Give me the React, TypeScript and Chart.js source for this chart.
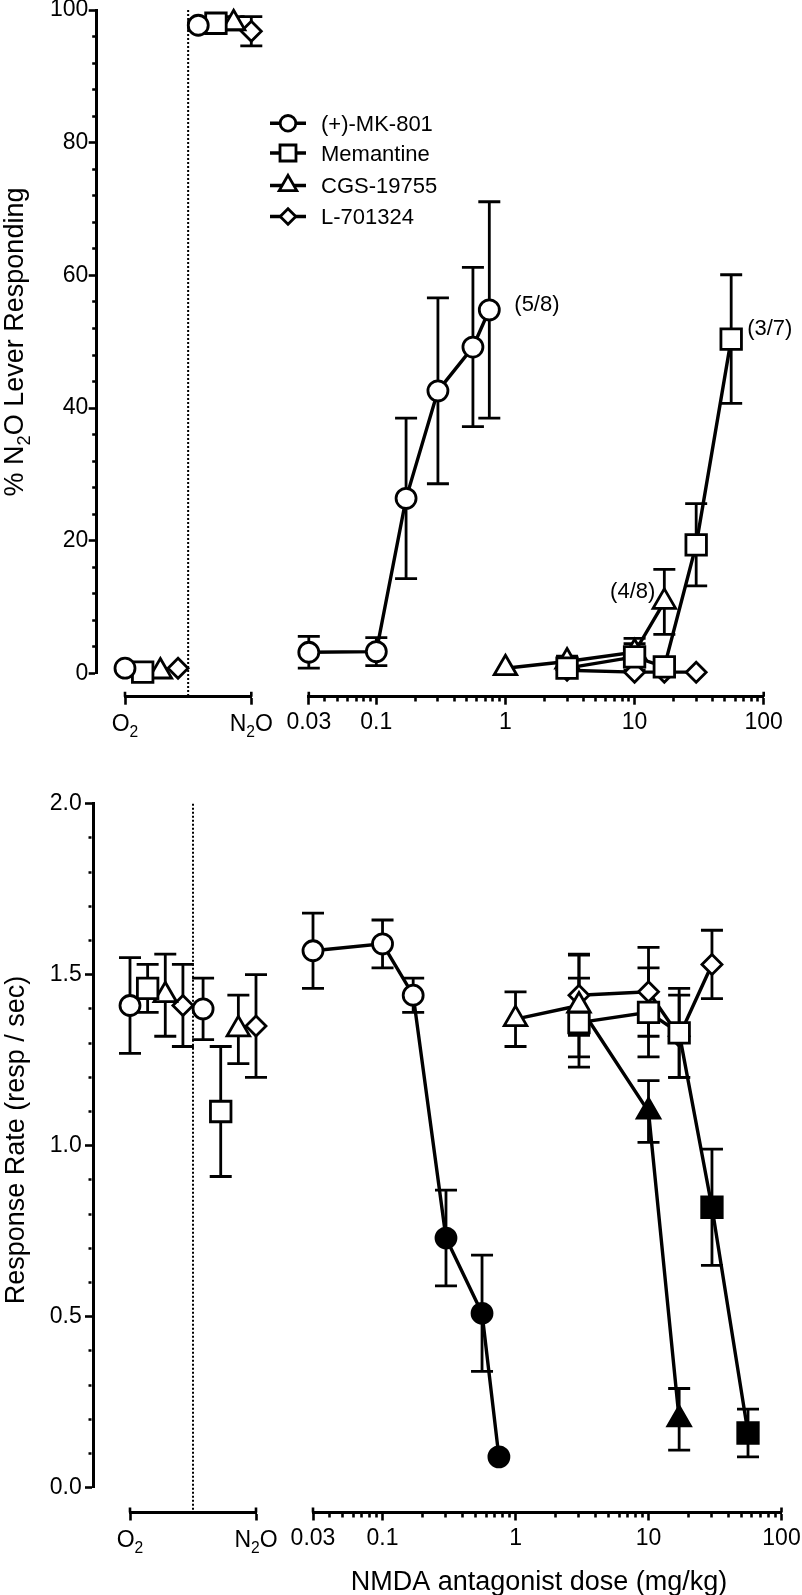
import React, { useEffect, useRef } from 'react';
import { Chart, registerables } from 'chart.js';

Chart.register(...registerables);

const FONT = "'Liberation Sans', Arial, Helvetica, sans-serif";

// ---------- data ----------
const compounds = ['(+)-MK-801', 'Memantine', 'CGS-19755', 'L-701324'];
const markerStyles = ['circle', 'rect', 'triangle', 'rectRot'];
const markerRadius = [10, 14.5, 13, 10];

// control conditions (x positions inside the O2 / N2O control axis)
const controlPosO2 = [0, 0.14, 0.28, 0.42];
const controlPosN2O = [0.58, 0.72, 0.86, 1.0];
const controlTickLabels = ['O2', 'N2O'];

// top panel: % N2O lever responding
const pctO2 = [0.8, 0.2, 0.3, 0.8];
const pctO2Sem = [0, 0, 0, 0];
const pctN2O = [97.7, 98.0, 98.0, 96.8];
const pctN2OSem = [0.6, 0.8, 1.0, 2.2];

const mk801Doses = [0.03, 0.1, 0.17, 0.3, 0.56, 0.75];
const memantineDoses = [3, 10, 17, 30, 56];
const cgsDoses = [1, 3, 10, 17];
const l701324Doses = [3, 10, 17, 30];

const mk801Pct = [3.2, 3.3, 26.4, 42.6, 49.2, 54.8];
const mk801PctSem = [2.4, 2.1, 12.1, 14.0, 12.0, 16.3];
const memantinePct = [0.8, 2.5, 1.0, 19.4, 50.4];
const memantinePctSem = [0.5, 2.0, 0.5, 6.2, 9.7];
const cgsPct = [0.8, 1.8, 3.2, 10.8];
const cgsPctSem = [0, 0.8, 2.1, 4.9];
const l701324Pct = [0.5, 0.2, 0.2, 0.2];
const l701324PctSem = [0, 0, 0, 0];

// bottom panel: response rate (resp / sec)
const rateO2 = [1.41, 1.46, 1.44, 1.41];
const rateO2Sem = [0.14, 0.07, 0.12, 0.12];
const rateN2O = [1.40, 1.10, 1.34, 1.35];
const rateN2OSem = [0.09, 0.19, 0.10, 0.15];

const mk801Rate = [1.57, 1.59, 1.44, 0.73, 0.51, 0.09];
const mk801RateSem = [0.11, 0.07, 0.05, 0.14, 0.17, 0];
const memantineRate = [1.36, 1.39, 1.33, 0.82, 0.16];
const memantineRateSem = [0.13, 0.13, 0.13, 0.17, 0.07];
const cgsRate = [1.37, 1.41, 1.10, 0.20];
const cgsRateSem = [0.08, 0.15, 0.09, 0.09];
const l701324Rate = [1.44, 1.45, 1.32, 1.53];
const l701324RateSem = [0.117, 0.13, 0.12, 0.10];

// filled symbols in the rate panel
const mk801RateFilled = [false, false, false, true, true, true];
const memantineRateFilled = [false, false, false, true, true];
const cgsRateFilled = [false, false, true, true];
const l701324RateFilled = [false, false, false, false];

// axis ticks
const doseTickLabels = [0.03, 0.1, 1, 10, 100];
const pctTickLabels = [0, 20, 40, 60, 80, 100];
const rateTickLabels = [0, 0.5, 1.0, 1.5, 2.0];

// annotations (top panel)
const pctNotes = [
  { series: 0, index: 5, text: '(5/8)' },
  { series: 1, index: 4, text: '(3/7)' },
  { series: 2, index: 3, text: '(4/8)' },
];

// ---------- layout / style ----------
type Geom = {
  height: number; yAxisX: number; yTop: number; yBot: number; xAxisY: number;
  ctrlL: number; ctrlR: number; doseL: number; doseR: number; yLabelPad: number;
  yTitleX: number; yTitleY: number;
};

const topGeom: Geom = {
  height: 760, yAxisX: 96.7, yTop: 10, yBot: 673.5, xAxisY: 696.7,
  ctrlL: 125, ctrlR: 251.3, doseL: 308.8, doseR: 763.7, yLabelPad: 0.4,
  yTitleX: 13, yTitleY: 342,
};
const botGeom: Geom = {
  height: 835, yAxisX: 93, yTop: 43.7, yBot: 727.7, xAxisY: 752.5,
  ctrlL: 130, ctrlR: 256, doseL: 313, doseR: 781.5, yLabelPad: 3.3,
  yTitleX: 14, yTitleY: 380,
};

const noteOffsets = [
  { dx: 25, dy: -7, align: 'left' },
  { dx: 16, dy: -12, align: 'left' },
  { dx: -9, dy: -12, align: 'right' },
];

const TICK_FONT = 23;
const LEGEND_FONT = 22;
const X_TITLE_FONT = 27;
const Y_TITLE_FONT = 27;
const CAP = 11;
const LINE_W = 3.4;
const MARK_W = 2.8;
const ERR_W = 2.8;

function near(a: number, b: number) {
  return Math.abs(a - b) < 1e-9 * Math.max(1, Math.abs(b));
}

function logTicks(min: number, max: number) {
  const out: number[] = [];
  for (let e = -3; e <= 3; e++) {
    for (let m = 1; m <= 9; m++) {
      const v = parseFloat((m * Math.pow(10, e)).toPrecision(6));
      if (v >= min - 1e-12 && v <= max + 1e-12) out.push(v);
    }
  }
  return out;
}

function stepTicks(min: number, max: number, step: number) {
  const out: number[] = [];
  const n = Math.round((max - min) / step);
  for (let i = 0; i <= n; i++) out.push(parseFloat((min + i * step).toFixed(6)));
  return out;
}

type Part = { t: string; sub?: boolean };

function richParts(s: string): Part[] {
  const parts: Part[] = [];
  const re = /(O2|N2O)/g;
  let last = 0;
  let m: RegExpExecArray | null;
  while ((m = re.exec(s))) {
    if (m.index > last) parts.push({ t: s.slice(last, m.index) });
    if (m[0] === 'O2') { parts.push({ t: 'O' }); parts.push({ t: '2', sub: true }); }
    else { parts.push({ t: 'N' }); parts.push({ t: '2', sub: true }); parts.push({ t: 'O' }); }
    last = m.index + m[0].length;
  }
  if (last < s.length) parts.push({ t: s.slice(last) });
  return parts;
}

function drawRich(ctx: CanvasRenderingContext2D, text: string, x: number, yCenter: number, size: number, align: 'left' | 'center' | 'right') {
  const parts = richParts(text);
  const sub = size * 0.68;
  let total = 0;
  const widths = parts.map((p) => {
    ctx.font = `${p.sub ? sub : size}px ${FONT}`;
    const w = ctx.measureText(p.t).width;
    total += w;
    return w;
  });
  let cx = align === 'left' ? x : align === 'center' ? x - total / 2 : x - total;
  const base = yCenter + size * 0.358;
  ctx.textBaseline = 'alphabetic';
  ctx.textAlign = 'left';
  parts.forEach((p, i) => {
    ctx.font = `${p.sub ? sub : size}px ${FONT}`;
    ctx.fillText(p.t, cx, base + (p.sub ? size * 0.26 : 0));
    cx += widths[i];
  });
}

function drawMarker(ctx: CanvasRenderingContext2D, style: string, x: number, y: number, r: number, fill: string) {
  ctx.beginPath();
  if (style === 'circle') ctx.arc(x, y, r, 0, Math.PI * 2);
  else if (style === 'rect') {
    const s = r * Math.SQRT1_2;
    ctx.rect(x - s, y - s, 2 * s, 2 * s);
  } else if (style === 'triangle') {
    const a = (2 * Math.PI) / 3;
    ctx.moveTo(x, y - r);
    ctx.lineTo(x + Math.sin(a) * r, y - Math.cos(a) * r);
    ctx.lineTo(x + Math.sin(2 * a) * r, y - Math.cos(2 * a) * r);
    ctx.closePath();
  } else {
    ctx.moveTo(x - r, y);
    ctx.lineTo(x, y - r);
    ctx.lineTo(x + r, y);
    ctx.lineTo(x, y + r);
    ctx.closePath();
  }
  ctx.fillStyle = fill;
  ctx.fill();
  ctx.stroke();
}

function place(scale: any, left: number, top: number, right: number, bottom: number) {
  scale.left = left; scale.right = right; scale.top = top; scale.bottom = bottom;
  scale.width = right - left; scale.height = bottom - top;
  scale.configure();
}

function layoutPlugin(g: Geom) {
  return {
    id: 'fixedLayout',
    afterLayout(chart: any) {
      const s = chart.scales;
      place(s.y, g.yAxisX - 70, g.yTop, g.yAxisX, g.yBot);
      place(s.xc, g.ctrlL, g.xAxisY, g.ctrlR, g.xAxisY + 50);
      place(s.xd, g.doseL, g.xAxisY, g.doseR, g.xAxisY + 50);
      chart.chartArea = {
        left: g.yAxisX, top: g.yTop, right: g.doseR, bottom: g.yBot,
        width: g.doseR - g.yAxisX, height: g.yBot - g.yTop,
      };
    },
  };
}

const errorBarPlugin = {
  id: 'errorBars',
  beforeDatasetsDraw(chart: any) {
    const ctx: CanvasRenderingContext2D = chart.ctx;
    const ys = chart.scales.y;
    ctx.save();
    ctx.strokeStyle = '#000';
    ctx.lineWidth = ERR_W;
    chart.data.datasets.forEach((ds: any, di: number) => {
      const errs: number[] = ds.errorBars;
      if (!errs) return;
      const meta = chart.getDatasetMeta(di);
      meta.data.forEach((pt: any, k: number) => {
        const e = errs[k];
        if (!e) return;
        const v = ds.data[k].y;
        const hi = ys.getPixelForValue(v + e);
        const lo = ys.getPixelForValue(v - e);
        const x = pt.x;
        ctx.beginPath();
        ctx.moveTo(x, hi); ctx.lineTo(x, lo);
        ctx.moveTo(x - CAP, hi); ctx.lineTo(x + CAP, hi);
        ctx.moveTo(x - CAP, lo); ctx.lineTo(x + CAP, lo);
        ctx.stroke();
      });
    });
    ctx.restore();
  },
};

function decorPlugin(g: Geom, yTitle: string, xTitle: string | null, withLegend: boolean, notes: typeof pctNotes | null) {
  return {
    id: 'decor',
    beforeDatasetsDraw(chart: any) {
      const ctx: CanvasRenderingContext2D = chart.ctx;
      const xc = chart.scales.xc;
      const xd = chart.scales.xd;
      const x = xc.getPixelForValue(0.5);
      ctx.save();
      ctx.strokeStyle = '#000';
      ctx.lineWidth = 2;
      ctx.setLineDash([2, 2]);
      ctx.beginPath();
      ctx.moveTo(x, g.yTop);
      ctx.lineTo(x, g.xAxisY);
      ctx.stroke();
      ctx.setLineDash([]);
      // end caps of the x axes reach a little above the axis line
      ctx.lineWidth = 2.6;
      const ends = [xc.getPixelForValue(0), xc.getPixelForValue(1), xd.getPixelForValue(0.03), xd.getPixelForValue(100)];
      ctx.beginPath();
      ends.forEach((ex) => {
        ctx.moveTo(ex, g.xAxisY - 5);
        ctx.lineTo(ex, g.xAxisY);
      });
      ctx.stroke();
      ctx.restore();
    },
    afterDraw(chart: any) {
      const ctx: CanvasRenderingContext2D = chart.ctx;
      const xc = chart.scales.xc;
      ctx.save();
      ctx.fillStyle = '#000';
      controlTickLabels.forEach((lab, i) => {
        drawRich(ctx, lab, xc.getPixelForValue(i), g.xAxisY + 26, TICK_FONT, 'center');
      });
      ctx.save();
      ctx.translate(g.yTitleX, g.yTitleY);
      ctx.rotate(-Math.PI / 2);
      drawRich(ctx, yTitle, 0, 0, Y_TITLE_FONT, 'center');
      ctx.restore();
      if (xTitle) {
        drawRich(ctx, xTitle, 539, g.xAxisY + 67.5, X_TITLE_FONT, 'center');
      }
      if (notes) {
        notes.forEach((n, i) => {
          const pt = chart.getDatasetMeta(n.series).data[n.index];
          const o = noteOffsets[i];
          drawRich(ctx, n.text, pt.x + o.dx, pt.y + o.dy, LEGEND_FONT, o.align as any);
        });
      }
      if (withLegend) {
        const rows = [123.3, 153, 185.5, 216.5];
        ctx.strokeStyle = '#000';
        compounds.forEach((name, i) => {
          const y = rows[i];
          ctx.lineWidth = LINE_W;
          ctx.beginPath();
          ctx.moveTo(270, y);
          ctx.lineTo(306, y);
          ctx.stroke();
          ctx.lineWidth = MARK_W;
          drawMarker(ctx, markerStyles[i], 288, y, markerRadius[i] * 0.78, '#fff');
          ctx.fillStyle = '#000';
          drawRich(ctx, name, 321, y, LEGEND_FONT, 'left');
        });
      }
      ctx.restore();
    },
  };
}

function doseDataset(i: number, doses: number[], values: number[], sems: number[], filled?: boolean[]) {
  return {
    label: compounds[i],
    xAxisID: 'xd',
    yAxisID: 'y',
    data: doses.map((d, k) => ({ x: d, y: values[k] })),
    errorBars: sems,
    borderColor: '#000',
    borderWidth: LINE_W,
    tension: 0,
    clip: false,
    pointStyle: markerStyles[i],
    pointRadius: markerRadius[i],
    pointHoverRadius: markerRadius[i],
    pointBorderColor: '#000',
    pointBorderWidth: MARK_W,
    pointBackgroundColor: doses.map((_, k) => (filled && filled[k] ? '#000' : '#fff')),
  };
}

function controlDataset(i: number, o2: number[], n2o: number[], o2Sem: number[], n2oSem: number[]) {
  return {
    label: compounds[i] + ' control',
    xAxisID: 'xc',
    yAxisID: 'y',
    showLine: false,
    data: [{ x: controlPosO2[i], y: o2[i] }, { x: controlPosN2O[i], y: n2o[i] }],
    errorBars: [o2Sem[i], n2oSem[i]],
    clip: false,
    pointStyle: markerStyles[i],
    pointRadius: markerRadius[i],
    pointHoverRadius: markerRadius[i],
    pointBorderColor: '#000',
    pointBorderWidth: MARK_W,
    pointBackgroundColor: '#fff',
  };
}

const tickFont = { family: FONT, size: TICK_FONT };

function axisGrid(isMajor: (v: number) => boolean, kind: 'left' | 'bottom') {
  return {
    display: true,
    drawOnChartArea: false,
    drawTicks: true,
    tickLength: 8,
    tickWidth: 2.6,
    tickColor: '#000',
    color: '#000',
    tickBorderDash: (c: any) => {
      if (!c.tick || isMajor(c.tick.value)) return [];
      return kind === 'left' ? [0, 3.5, 3, 100] : [3.5, 100];
    },
  };
}

const border = { display: true, color: '#000', width: 3 };

function makeConfig(g: Geom, panel: 'pct' | 'rate'): any {
  const isPct = panel === 'pct';
  const datasets = isPct
    ? [
        doseDataset(0, mk801Doses, mk801Pct, mk801PctSem),
        doseDataset(1, memantineDoses, memantinePct, memantinePctSem),
        doseDataset(2, cgsDoses, cgsPct, cgsPctSem),
        doseDataset(3, l701324Doses, l701324Pct, l701324PctSem),
        ...[0, 1, 2, 3].map((i) => controlDataset(i, pctO2, pctN2O, pctO2Sem, pctN2OSem)),
      ]
    : [
        doseDataset(0, mk801Doses, mk801Rate, mk801RateSem, mk801RateFilled),
        doseDataset(1, memantineDoses, memantineRate, memantineRateSem, memantineRateFilled),
        doseDataset(2, cgsDoses, cgsRate, cgsRateSem, cgsRateFilled),
        doseDataset(3, l701324Doses, l701324Rate, l701324RateSem, l701324RateFilled),
        ...[0, 1, 2, 3].map((i) => controlDataset(i, rateO2, rateN2O, rateO2Sem, rateN2OSem)),
      ];

  const yTicks = isPct ? stepTicks(0, 100, 4) : stepTicks(0, 2, 0.1);
  const yMajor = isPct ? pctTickLabels : rateTickLabels;
  const isYMajor = (v: number) => yMajor.some((m) => near(v, m));
  const isDoseMajor = (v: number) => doseTickLabels.some((m) => near(v, m));
  const doseTicks = logTicks(0.03, 100);

  return {
    type: 'line',
    data: { datasets },
    options: {
      responsive: false,
      maintainAspectRatio: false,
      animation: false,
      events: [],
      devicePixelRatio: 1,
      layout: { padding: 0 },
      plugins: { legend: { display: false }, tooltip: { enabled: false }, title: { display: false } },
      scales: {
        y: {
          type: 'linear',
          position: 'left',
          min: 0,
          max: isPct ? 100 : 2,
          afterBuildTicks: (s: any) => { s.ticks = yTicks.map((v) => ({ value: v })); },
          ticks: {
            autoSkip: false,
            color: '#000',
            font: tickFont,
            padding: g.yLabelPad,
            callback: (v: number) => (isYMajor(v) ? (isPct ? String(Math.round(v)) : v.toFixed(1)) : ''),
          },
          grid: axisGrid(isYMajor, 'left'),
          border,
        },
        xc: {
          type: 'linear',
          position: 'bottom',
          min: 0,
          max: 1,
          afterBuildTicks: (s: any) => { s.ticks = [{ value: 0 }, { value: 1 }]; },
          ticks: { autoSkip: false, maxRotation: 0, minRotation: 0, callback: () => '', font: tickFont },
          grid: axisGrid(() => true, 'bottom'),
          border,
        },
        xd: {
          type: 'logarithmic',
          position: 'bottom',
          min: 0.03,
          max: 100,
          afterBuildTicks: (s: any) => { s.ticks = doseTicks.map((v) => ({ value: v })); },
          ticks: {
            autoSkip: false,
            maxRotation: 0,
            minRotation: 0,
            color: '#000',
            font: tickFont,
            padding: 4.2,
            callback: (v: number) => {
              const m = doseTickLabels.find((t) => near(v, t));
              return m === undefined ? '' : String(m);
            },
          },
          grid: axisGrid(isDoseMajor, 'bottom'),
          border,
        },
      },
    },
    plugins: [
      layoutPlugin(g),
      errorBarPlugin,
      decorPlugin(
        g,
        isPct ? '% N2O Lever Responding' : 'Response Rate (resp / sec)',
        isPct ? null : 'NMDA antagonist dose (mg/kg)',
        isPct,
        isPct ? pctNotes : null,
      ),
    ],
  };
}

function Panel({ g, panel, top }: { g: Geom; panel: 'pct' | 'rate'; top: number }) {
  const ref = useRef<HTMLCanvasElement>(null);
  useEffect(() => {
    if (!ref.current) return;
    const chart = new Chart(ref.current, makeConfig(g, panel));
    return () => chart.destroy();
  }, [g, panel]);
  return (
    <canvas
      ref={ref}
      width={802}
      height={g.height}
      style={{ position: 'absolute', left: 0, top, width: 802, height: g.height, display: 'block' }}
    />
  );
}

export default function App() {
  return (
    <div style={{ position: 'absolute', left: 0, top: 0, width: 802, height: 1595, background: '#fff', overflow: 'hidden' }}>
      <Panel g={topGeom} panel="pct" top={0} />
      <Panel g={botGeom} panel="rate" top={760} />
    </div>
  );
}
